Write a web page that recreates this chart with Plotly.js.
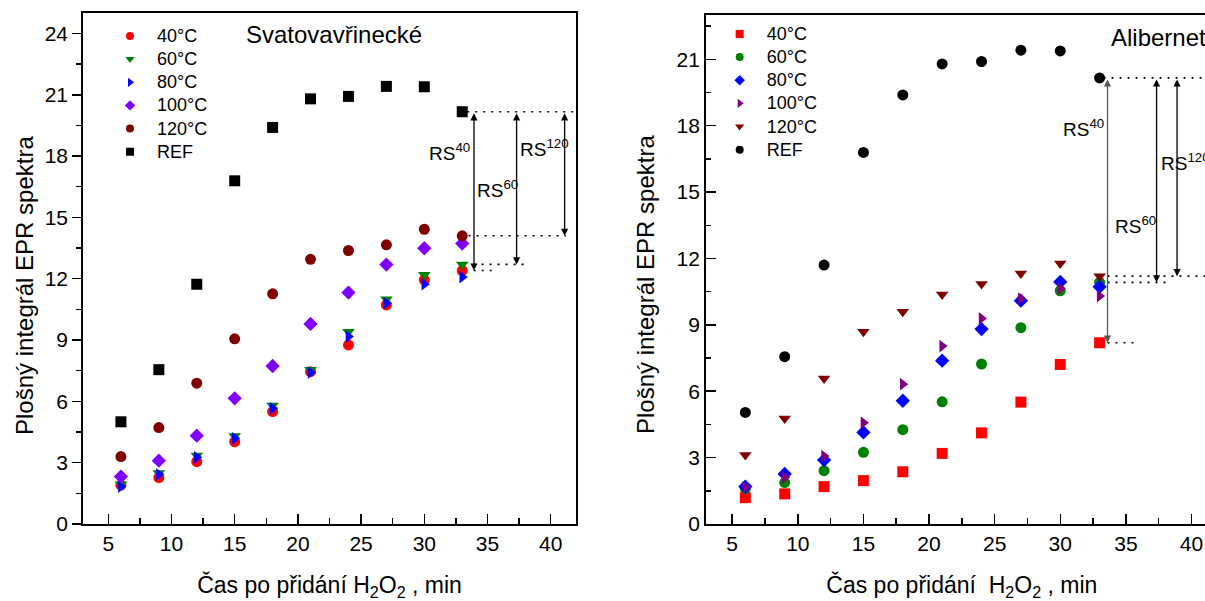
<!DOCTYPE html>
<html>
<head>
<meta charset="utf-8">
<script src="https://cdn.plot.ly/plotly-3.0.1.min.js"></script>
<style>
html,body{margin:0;padding:0;overflow:hidden;background:#fff;width:1205px;height:601px;}
#chart{width:1240px;height:601px;}
</style>
</head>
<body>
<div id="chart"></div>
<script>
// ---- data ----
const times = [6, 9, 12, 15, 18, 21, 24, 27, 30, 33];
const seriesNames = ['40°C', '60°C', '80°C', '100°C', '120°C', 'REF'];

// Svatovavřinecké (left)
const sv40  = [1.90, 2.27, 3.05, 4.03, 5.50, 7.45, 8.76, 10.72, 11.94, 12.40];
const sv60  = [1.95, 2.50, 3.35, 4.30, 5.80, 7.55, 9.40, 11.00, 12.20, 12.70];
const sv80  = [1.83, 2.43, 3.26, 4.19, 5.66, 7.41, 9.17, 10.80, 11.73, 12.08];
const sv100 = [2.32, 3.10, 4.32, 6.15, 7.73, 9.79, 11.32, 12.69, 13.49, 13.72];
const sv120 = [3.30, 4.72, 6.89, 9.06, 11.26, 12.95, 13.38, 13.66, 14.42, 14.10];
const svRef = [5.00, 7.55, 11.73, 16.79, 19.40, 20.80, 20.92, 21.41, 21.39, 20.17];

// Alibernet (right)
const al40  = [1.19, 1.36, 1.69, 1.96, 2.36, 3.19, 4.12, 5.51, 7.21, 8.19];
const al60  = [1.60, 1.87, 2.41, 3.24, 4.26, 5.52, 7.23, 8.87, 10.54, 10.92];
const al80  = [1.69, 2.26, 2.89, 4.14, 5.57, 7.38, 8.81, 10.09, 10.94, 10.72];
const al100 = [1.66, 2.11, 3.07, 4.58, 6.32, 8.04, 9.29, 10.19, 10.64, 10.30];
const al120 = [3.12, 4.77, 6.58, 8.69, 9.59, 10.37, 10.84, 11.32, 11.77, 11.20];
const alRef = [5.04, 7.56, 11.70, 16.79, 19.39, 20.79, 20.90, 21.41, 21.38, 20.16];

// ticks
const xTicks = [5, 10, 15, 20, 25, 30, 35, 40];
const yTicksLeft = [0, 3, 6, 9, 12, 15, 18, 21, 24];
const yTicksRight = [0, 3, 6, 9, 12, 15, 18, 21];

// ---- styles ----
const FONT = 'Liberation Sans, Arial, sans-serif';
const leftStyle = [
  {symbol: 'circle', color: '#ff0000'},
  {symbol: 'triangle-down', color: '#008000'},
  {symbol: 'triangle-right', color: '#0000ff'},
  {symbol: 'diamond', color: '#8000ff'},
  {symbol: 'circle', color: '#800000'},
  {symbol: 'square', color: '#000000'}
];
const rightStyle = [
  {symbol: 'square', color: '#ff0000'},
  {symbol: 'circle', color: '#008000'},
  {symbol: 'diamond', color: '#0000ff'},
  {symbol: 'triangle-right', color: '#800080'},
  {symbol: 'triangle-down', color: '#800000'},
  {symbol: 'circle', color: '#000000'}
];
const leftData = [sv40, sv60, sv80, sv100, sv120, svRef];
const rightData = [al40, al60, al80, al100, al120, alRef];

const traces = [];
function addPanel(dataArr, styles, xa, ya, legendId) {
  dataArr.forEach((ys, i) => {
    traces.push({
      type: 'scatter', mode: 'markers', x: times, y: ys,
      xaxis: xa, yaxis: ya, showlegend: false, cliponaxis: false,
      marker: {symbol: styles[i].symbol, color: styles[i].color, size: 11, line: {width: 0}},
      hoverinfo: 'x+y'
    });
  });
  dataArr.forEach((ys, i) => {
    traces.push({
      type: 'scatter', mode: 'markers', x: [null], y: [null],
      xaxis: xa, yaxis: ya, legend: legendId,
      name: '<span style="font-size:18px">' + seriesNames[i] + '</span>',
      marker: {symbol: styles[i].symbol, color: styles[i].color, size: 8, line: {width: 0}}
    });
  });
}
addPanel(leftData, leftStyle, 'x', 'y', 'legend');
addPanel(rightData, rightStyle, 'x2', 'y2', 'legend2');

const last = a => a[a.length - 1];

function dotted(xref, yref, x0, x1, y) {
  return {type: 'line', xref: xref, yref: yref, x0: x0, x1: x1, y0: y, y1: y,
          line: {color: '#000', width: 1.6, dash: '2px,6px'}};
}
function arrow(xref, yref, x, yTop, yBot, color) {
  return {xref: xref, yref: yref, axref: xref, ayref: yref,
          x: x, y: yBot, ax: x, ay: yTop, text: '', showarrow: true,
          arrowhead: 2, startarrowhead: 2, arrowside: 'end+start',
          arrowsize: 1.1, arrowwidth: 1.3, arrowcolor: color || '#000',
          standoff: 0, startstandoff: 0, font: {size: 1}};
}
function rsLabel(xref, yref, x, y, sup, anchor) {
  return {xref: xref, yref: yref, x: x, y: y, text: 'RS<sup>' + sup + '</sup>',
          showarrow: false, xanchor: anchor, yanchor: 'middle',
          font: {family: FONT, size: 19, color: '#000'}};
}
function yTitle(xPaper, yPaper) {
  return {xref: 'paper', yref: 'paper', x: xPaper, y: yPaper, textangle: -90,
          text: 'Plošný integrál EPR spektra', showarrow: false,
          xanchor: 'center', yanchor: 'middle',
          font: {family: FONT, size: 24, color: '#000'}};
}

const shapes = [
  // left panel
  dotted('x', 'y', 33.4, 42, last(svRef)),
  dotted('x', 'y', 33.5, 41.2, last(sv120)),
  dotted('x', 'y', 33.9, 38.0, last(sv60)),
  dotted('x', 'y', 33.9, 35.5, last(sv40)),
  // right panel
  dotted('x2', 'y2', 33.3, 43, last(alRef)),
  dotted('x2', 'y2', 33.6, 43, last(al120)),
  dotted('x2', 'y2', 33.6, 38.35, last(al60)),
  dotted('x2', 'y2', 33.6, 35.9, last(al40))
];

const annotations = [
  arrow('x', 'y', 33.93, last(svRef), last(sv40)),
  arrow('x', 'y', 37.3, last(svRef), last(sv60)),
  arrow('x', 'y', 41.1, last(svRef), last(sv120)),
  rsLabel('x', 'y', 33.8, 18.2, '40', 'right'),
  rsLabel('x', 'y', 34.0, 16.4, '60', 'left'),
  rsLabel('x', 'y', 37.4, 18.4, '120', 'left'),
  arrow('x2', 'y2', 33.6, last(alRef), last(al40), '#555'),
  arrow('x2', 'y2', 37.34, last(alRef), last(al60)),
  arrow('x2', 'y2', 38.9, last(alRef), last(al120)),
  rsLabel('x2', 'y2', 33.5, 17.9, '40', 'right'),
  rsLabel('x2', 'y2', 34.05, 13.5, '60', 'left'),
  rsLabel('x2', 'y2', 37.5, 16.35, '120', 'left'),
  {xref: 'x', yref: 'y', x: 15.74, y: 23.95, text: 'Svatovavřinecké', showarrow: false,
   xanchor: 'left', yanchor: 'middle', font: {family: FONT, size: 24, color: '#000'}},
  {xref: 'x2', yref: 'y2', x: 33.74, y: 22.0, text: 'Alibernet', showarrow: false,
   xanchor: 'left', yanchor: 'middle', font: {family: FONT, size: 24, color: '#000'}},
  yTitle(-0.0519, 0.4677),
  yTitle(0.4943, 0.4677)
];

function xAxis(domain, anchor, titleText) {
  return {
    domain: domain, anchor: anchor, range: [3, 42],
    tickmode: 'array', tickvals: xTicks, ticktext: xTicks.map(String),
    ticks: 'inside', ticklen: 10, tickwidth: 1.5, tickcolor: '#000',
    minor: {tickmode: 'linear', tick0: 0, dtick: 2.5, ticks: 'inside', ticklen: 6, tickwidth: 1.5, tickcolor: '#000'},
    showline: true, linewidth: 1.8, linecolor: '#000', mirror: true,
    showgrid: false, zeroline: false,
    tickfont: {family: FONT, size: 21, color: '#000'},
    title: {text: titleText, font: {family: FONT, size: 23, color: '#000'}, standoff: 27}
  };
}
function yAxis(domain, anchor, range, ticksArr, dir) {
  return {
    domain: domain, anchor: anchor, range: range,
    tickmode: 'array', tickvals: ticksArr, ticktext: ticksArr.map(String),
    ticks: dir, ticklen: dir === 'outside' ? 9 : 10, tickwidth: 1.5, tickcolor: '#000',
    minor: {tickmode: 'linear', tick0: 0, dtick: 1.5, ticks: dir, ticklen: 5, tickwidth: 1.5, tickcolor: '#000'},
    showline: true, linewidth: 1.8, linecolor: '#000', mirror: true,
    showgrid: false, zeroline: false,
    tickfont: {family: FONT, size: 21, color: '#000'}
  };
}

const legendBase = {
  bgcolor: 'rgba(0,0,0,0)', borderwidth: 0, itemwidth: 44,
  font: {family: FONT, size: 15.5, color: '#000'},
  xanchor: 'left', yanchor: 'top', tracegroupgap: 0, itemclick: false
};

const layout = {
  width: 1240, height: 601,
  margin: {l: 83, r: 20, t: 13, b: 77},
  paper_bgcolor: '#fff', plot_bgcolor: '#fff',
  font: {family: FONT, color: '#000'},
  xaxis: xAxis([0, 0.4336], 'y', 'Čas po přidání H<sub>2</sub>O<sub>2</sub> , min'),
  yaxis: yAxis([0, 1], 'x', [0, 25], yTicksLeft, 'outside'),
  xaxis2: xAxis([0.5479, 0.998], 'y2', 'Čas po přidání \u00a0H<sub>2</sub>O<sub>2</sub> , min'),
  yaxis2: yAxis([0, 0.996], 'x2', [0, 23], yTicksRight, 'inside'),
  legend: Object.assign({}, legendBase, {x: 0.0176, y: 0.9875}),
  legend2: Object.assign({}, legendBase, {x: 0.5538, y: 0.9915}),
  shapes: shapes,
  annotations: annotations,
  showlegend: true
};

Plotly.newPlot('chart', traces, layout, {staticPlot: true, displayModeBar: false});
</script>
</body>
</html>
